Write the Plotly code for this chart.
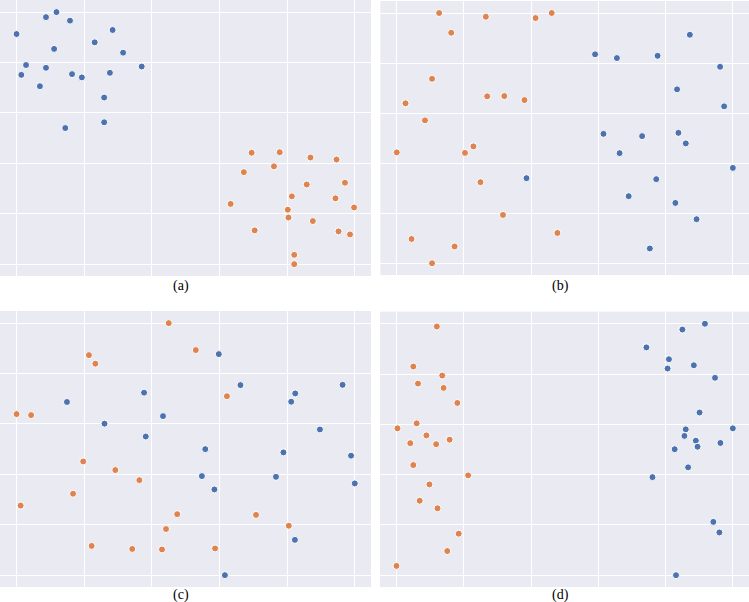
import plotly.graph_objects as go

W, H = 749, 602

# Panel (a)
a_blue_x = [0.0, 0.087, 0.118, 0.158, 0.284, 0.231, 0.111, 0.315, 0.028, 0.087, 0.014, 0.164, 0.193, 0.276, 0.370, 0.069, 0.259, 0.144, 0.259]
a_blue_y = [0.913, 0.980, 1.0, 0.966, 0.929, 0.880, 0.854, 0.839, 0.790, 0.779, 0.751, 0.754, 0.741, 0.759, 0.784, 0.706, 0.661, 0.540, 0.563]
a_orange_x = [0.695, 0.778, 0.869, 0.946, 0.672, 0.761, 0.858, 0.971, 0.814, 0.943, 0.633, 0.802, 0.998, 0.804, 0.876, 0.704, 0.952, 0.986, 0.821, 0.821]
a_orange_y = [0.442, 0.444, 0.423, 0.415, 0.365, 0.388, 0.316, 0.323, 0.269, 0.261, 0.239, 0.216, 0.225, 0.185, 0.171, 0.134, 0.130, 0.118, 0.037, 0.0]

# Panel (b)
b_blue_x = [0.872, 0.590, 0.655, 0.776, 0.962, 0.834, 0.974, 0.615, 0.730, 0.838, 0.860, 0.663, 1.0, 0.386, 0.772, 0.690, 0.829, 0.892, 0.753]
b_blue_y = [0.913, 0.835, 0.820, 0.829, 0.785, 0.695, 0.627, 0.517, 0.508, 0.521, 0.479, 0.440, 0.381, 0.340, 0.336, 0.268, 0.241, 0.176, 0.059]
b_orange_x = [0.126, 0.265, 0.413, 0.461, 0.162, 0.105, 0.026, 0.269, 0.320, 0.380, 0.084, 0.0, 0.203, 0.228, 0.249, 0.316, 0.478, 0.044, 0.172, 0.105]
b_orange_y = [1.0, 0.985, 0.980, 1.0, 0.921, 0.737, 0.639, 0.667, 0.668, 0.652, 0.571, 0.443, 0.441, 0.467, 0.324, 0.193, 0.121, 0.097, 0.067, 0.0]

# Panel (c)
c_blue_x = [0.598, 0.662, 0.964, 0.824, 0.812, 0.377, 0.149, 0.433, 0.260, 0.897, 0.382, 0.558, 0.789, 0.989, 0.548, 0.767, 1.0, 0.585, 0.823, 0.616]
c_blue_y = [0.877, 0.754, 0.755, 0.721, 0.688, 0.724, 0.687, 0.631, 0.601, 0.578, 0.550, 0.500, 0.487, 0.474, 0.393, 0.390, 0.364, 0.340, 0.140, 0.0]
c_orange_x = [0.450, 0.530, 0.214, 0.233, 0.622, 0.0, 0.043, 0.197, 0.292, 0.363, 0.167, 0.012, 0.475, 0.708, 0.805, 0.442, 0.222, 0.342, 0.430, 0.587]
c_orange_y = [1.0, 0.893, 0.873, 0.839, 0.710, 0.639, 0.635, 0.451, 0.417, 0.377, 0.323, 0.276, 0.242, 0.239, 0.196, 0.183, 0.116, 0.104, 0.102, 0.106]

# Panel (d)
d_blue_x = [0.917, 0.850, 0.743, 0.810, 0.806, 0.884, 0.947, 0.901, 0.860, 1.0, 0.856, 0.890, 0.895, 0.963, 0.827, 0.867, 0.761, 0.942, 0.960, 0.831]
d_blue_y = [1.0, 0.977, 0.906, 0.859, 0.822, 0.835, 0.785, 0.647, 0.580, 0.584, 0.554, 0.535, 0.511, 0.526, 0.501, 0.429, 0.390, 0.212, 0.170, 0.0]
d_orange_x = [0.120, 0.050, 0.136, 0.064, 0.140, 0.181, 0.060, 0.003, 0.089, 0.158, 0.041, 0.118, 0.050, 0.213, 0.098, 0.069, 0.122, 0.185, 0.151, 0.0]
d_orange_y = [0.989, 0.830, 0.794, 0.762, 0.745, 0.685, 0.604, 0.584, 0.556, 0.539, 0.525, 0.521, 0.438, 0.397, 0.361, 0.296, 0.266, 0.165, 0.096, 0.037]

captions = ["(a)", "(b)", "(c)", "(d)"]
tick_vals = [0, 0.2, 0.4, 0.6, 0.8, 1.0]

BLUE = "#4C72B0"
ORANGE = "#DD8452"

panels = [
    (a_blue_x, a_blue_y, a_orange_x, a_orange_y),
    (b_blue_x, b_blue_y, b_orange_x, b_orange_y),
    (c_blue_x, c_blue_y, c_orange_x, c_orange_y),
    (d_blue_x, d_blue_y, d_orange_x, d_orange_y),
]

# pixel boxes: (left, right, top, bottom)
boxes = [
    (0, 371, 0, 276),
    (380.3, 749, 1, 275),
    (0, 371, 311, 587),
    (380, 749, 311.7, 587),
]
cap_pos = [(181, 285.5), (560, 285.5), (181, 595), (560, 595)]

fig = go.Figure()
layout = {}
for i, ((bx, by, ox, oy), (l, r, t, b)) in enumerate(zip(panels, boxes)):
    n = "" if i == 0 else str(i + 1)
    xa, ya = "x" + n, "y" + n
    fig.add_trace(go.Scatter(x=bx, y=by, mode="markers", xaxis=xa, yaxis=ya,
                             marker=dict(color=BLUE, size=7, line=dict(color="white", width=1)),
                             showlegend=False, hoverinfo="skip"))
    fig.add_trace(go.Scatter(x=ox, y=oy, mode="markers", xaxis=xa, yaxis=ya,
                             marker=dict(color=ORANGE, size=7, line=dict(color="white", width=1)),
                             showlegend=False, hoverinfo="skip"))
    common = dict(tickvals=tick_vals, showticklabels=False, showgrid=True, gridcolor="white",
                  gridwidth=1.2, zeroline=False, showline=False, ticks="", fixedrange=True)
    layout["xaxis" + n] = dict(domain=[l / W, r / W], range=[-0.049, 1.048], anchor=ya, **common)
    layout["yaxis" + n] = dict(domain=[1 - b / H, 1 - t / H], range=[-0.047, 1.048], anchor=xa, **common)

annotations = []
for cap, (cx, cy) in zip(captions, cap_pos):
    annotations.append(dict(text=cap, x=cx / W, y=1 - cy / H, xref="paper", yref="paper",
                            xanchor="center", yanchor="middle", showarrow=False,
                            font=dict(family="Liberation Serif, Times New Roman, serif", size=14, color="black")))

fig.update_layout(width=W, height=H, margin=dict(l=0, r=0, t=0, b=0),
                  paper_bgcolor="white", plot_bgcolor="#EAEAF2",
                  annotations=annotations, **layout)

fig.write_html("out.html")
